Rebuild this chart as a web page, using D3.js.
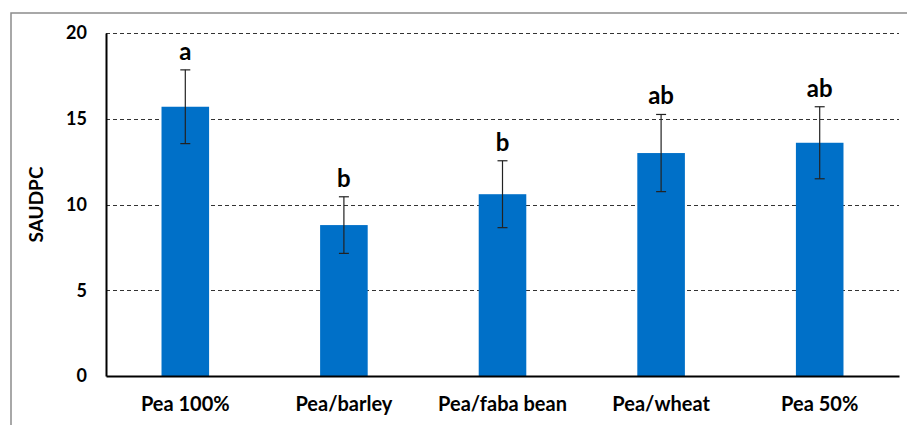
<!DOCTYPE html>
<html>
<head>
<meta charset="utf-8">
<script src="https://cdn.jsdelivr.net/npm/d3@7"></script>
<style>
  html, body { margin: 0; padding: 0; background: #fff; }
  svg { display: block; }
  text { font-family: Lato, "Open Sans", sans-serif; font-weight: bold; fill: #000; }
</style>
</head>
<body>
<svg id="chart" width="907" height="425"></svg>
<script>
// SAUDPC per cropping treatment, with standard error and significance groups
const categories = ["Pea 100%", "Pea/barley", "Pea/faba bean", "Pea/wheat", "Pea 50%"];
const means = [15.7, 8.8, 10.6, 13.0, 13.6];
const errors = [2.15, 1.65, 1.95, 2.25, 2.1];
const groups = ["a", "b", "b", "ab", "ab"];
const yTicks = [0, 5, 10, 15, 20];

const svg = d3.select("#chart");
const margin = { left: 106, right: 8, top: 33, bottom: 49 };
const W = 907, H = 425;

// outer frame
svg.append("rect")
  .attr("x", 11).attr("y", 13)
  .attr("width", W + 20).attr("height", H + 20)
  .attr("fill", "none").attr("stroke", "#8c8c8c").attr("stroke-width", 1.5);

const x = d3.scaleBand()
  .domain(categories)
  .range([margin.left, W - margin.right])
  .paddingInner(0.7)
  .paddingOuter(0.35);

const y = d3.scaleLinear()
  .domain([0, 20])
  .range([H - margin.bottom, margin.top]);

// dashed horizontal gridlines
svg.append("g")
  .selectAll("line")
  .data(yTicks.filter(d => d > 0))
  .join("line")
  .attr("x1", margin.left).attr("x2", W - margin.right)
  .attr("y1", d => Math.round(y(d)) + 0.5).attr("y2", d => Math.round(y(d)) + 0.5)
  .attr("stroke", "#333").attr("stroke-width", 1)
  .attr("stroke-dasharray", "4,3");

// bars
svg.append("g")
  .selectAll("rect")
  .data(categories)
  .join("rect")
  .attr("x", d => x(d))
  .attr("width", x.bandwidth())
  .attr("y", (d, i) => y(means[i]))
  .attr("height", (d, i) => y(0) - y(means[i]))
  .attr("fill", "#0070C8");

// error bars
const eb = svg.append("g").attr("stroke", "#222").attr("stroke-width", 1.2);
categories.forEach((c, i) => {
  const cx = x(c) + x.bandwidth() / 2;
  const top = y(means[i] + errors[i]);
  const bot = y(means[i] - errors[i]);
  eb.append("line").attr("x1", cx).attr("x2", cx).attr("y1", top).attr("y2", bot);
  eb.append("line").attr("x1", cx - 5).attr("x2", cx + 5).attr("y1", top).attr("y2", top);
  eb.append("line").attr("x1", cx - 5).attr("x2", cx + 5).attr("y1", bot).attr("y2", bot);
});

// significance letters
svg.append("g")
  .selectAll("text")
  .data(categories)
  .join("text")
  .attr("x", d => x(d) + x.bandwidth() / 2)
  .attr("y", (d, i) => y(means[i] + errors[i]) - 10)
  .attr("text-anchor", "middle")
  .style("font-size", "24px")
  .text((d, i) => groups[i]);

// y axis
const yAxis = svg.append("g")
  .attr("transform", `translate(${margin.left},0)`)
  .call(d3.axisLeft(y).tickValues(yTicks).tickSize(0).tickPadding(19));
yAxis.select(".domain").attr("stroke", "#000").attr("stroke-width", 2);
yAxis.selectAll("text").style("font-size", "18px").style("font-family", null);

// x axis
const xAxis = svg.append("g")
  .attr("transform", `translate(0,${y(0)})`)
  .call(d3.axisBottom(x).tickSize(0).tickPadding(21));
xAxis.select(".domain").attr("stroke", "#000").attr("stroke-width", 2);
xAxis.selectAll("text").style("font-size", "20px").style("font-family", null);

// y axis title
svg.append("text")
  .attr("transform", `translate(43,${(y(0) + y(20)) / 2}) rotate(-90)`)
  .attr("text-anchor", "middle")
  .style("font-size", "19px")
  .text("SAUDPC");
</script>
</body>
</html>
